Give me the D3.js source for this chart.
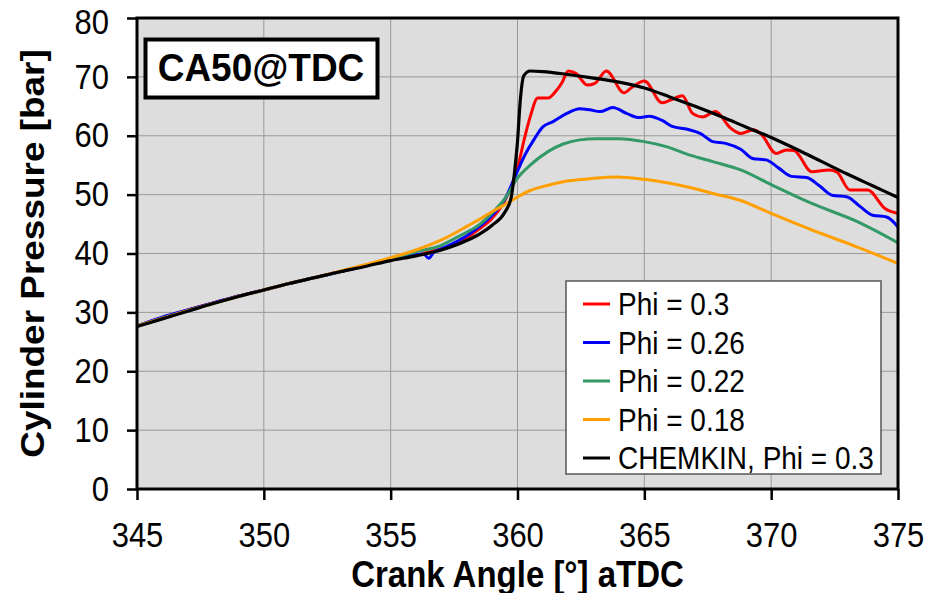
<!DOCTYPE html>
<html>
<head>
<meta charset="utf-8">
<script src="https://cdn.jsdelivr.net/npm/d3@7"></script>
<style>
  body { margin: 0; background: #fff; }
  text { font-family: "Liberation Sans", Arial, sans-serif; }
</style>
</head>
<body>
<div id="chart"></div>
<script>
// crank angle ticks and pressure ticks
const angleTicks = [345, 350, 355, 360, 365, 370, 375];
const pressureTicks = [0, 10, 20, 30, 40, 50, 60, 70, 80];

// [crank angle, pressure]
const phi030 = [[345,27.7],[346,29.1],[347,30.4],[348,31.6],[349,32.8],[350,33.8],[351,34.9],[352,35.9],[353,36.9],[354,37.9],[355,38.9],
  [356,39.7],[357,40.8],[357.5,41.5],[358,42.7],[358.5,44.2],[359,46.0],[359.5,49.0],[360,54.5],[360.3,60.0],[360.5,63.2],[360.8,66.4],
  [361.2,66.4],[361.5,67.5],[361.75,69.0],[362,71.0],[362.3,70.6],[362.75,68.6],[363.05,68.9],[363.5,71.0],[364.2,67.3],[364.5,68.2],
  [365,69.3],[365.7,65.6],[366,66.0],[366.5,66.8],[366.9,63.8],[367.3,63.2],[367.8,64.1],[368.4,61.3],[368.8,60.4],[369.3,61.0],
  [369.6,60.3],[370.2,57.0],[370.6,57.6],[370.9,57.5],[371.6,53.9],[372.3,54.2],[372.6,53.8],[373.1,50.8],[373.8,50.8],[374.5,47.6],[375,46.8]];
const phi026 = [[345,27.7],[346,29.2],[347,30.4],[348,31.6],[349,32.8],[350,33.8],[351,34.9],[352,35.9],[353,36.9],[354,37.9],[355,38.9],
  [356,39.8],[356.3,39.9],[356.5,39.2],[356.7,40.2],[357,40.8],[357.5,41.8],[358,43.0],[358.5,44.6],[359,46.5],[359.5,49.2],[360,54.0],
  [360.3,56.8],[360.6,59.0],[361,61.5],[361.4,62.4],[361.95,63.8],[362.45,64.6],[362.85,64.4],[363.25,64.1],[363.76,64.8],[364.3,63.8],
  [364.75,63.1],[365.2,63.3],[365.7,62.6],[366.1,61.6],[366.7,61.1],[367.2,60.4],[367.7,59.0],[368.2,58.7],[368.8,57.7],[369.3,56.1],
  [369.8,55.9],[370.3,54.5],[370.8,53.1],[371.4,52.9],[371.9,51.5],[372.4,49.9],[373,49.6],[373.5,48.0],[374,46.5],[374.55,46.2],[375,44.5]];
const phi022 = [[345,27.7],[346,29.0],[347,30.3],[348,31.5],[349,32.7],[350,33.8],[351,34.9],[352,35.9],[353,36.9],[354,37.9],[355,39.1],
  [356,40.3],[357,41.4],[357.5,42.5],[358,43.6],[358.5,44.9],[359,46.9],[359.5,49.3],[360,52.8],[360.5,55.0],[361.2,57.3],[361.8,58.6],
  [362.45,59.3],[363.1,59.5],[364,59.5],[365,59.0],[365.9,58.1],[366.8,56.7],[367.7,55.6],[368.8,54.2],[370,51.7],[371.6,48.5],
  [373.4,45.4],[375,41.8]];
const phi018 = [[345,27.7],[346,29.0],[347,30.3],[348,31.5],[349,32.7],[350,33.8],[351,34.9],[352,35.9],[353,37.0],[354,38.1],[355,39.3],
  [356,40.6],[357,42.3],[357.5,43.4],[358,44.6],[358.5,45.8],[359,47.1],[359.5,48.3],[360,49.6],[360.5,50.7],[361.2,51.6],[361.8,52.2],
  [362.85,52.7],[363.9,53.0],[365,52.6],[365.9,52.0],[366.8,51.2],[367.7,50.2],[368.8,49.0],[370,46.8],[371.6,44.0],[373.4,41.1],[375,38.3]];
const chemkin = [[345,27.6],[346,28.9],[347,30.2],[348,31.5],[349,32.7],[350,33.8],[351,34.9],[352,35.9],[353,36.9],[354,37.8],[355,38.8],
  [356,39.6],[357,40.6],[358,42.2],[358.5,43.3],[359,44.8],[359.5,47.0],[359.75,49.5],[359.9,54.5],[360,59.0],[360.1,65.5],[360.25,70.2],
  [360.5,71.0],[361,70.9],[362,70.4],[363,69.8],[364,69.1],[365,68.1],[366,66.6],[367,65.0],[368,63.3],[369,61.5],[370,59.7],[371,57.7],
  [372,55.6],[373,53.5],[374,51.5],[375,49.5]];

const seriesNames = ["Phi = 0.3", "Phi = 0.26", "Phi = 0.22", "Phi = 0.18", "CHEMKIN, Phi = 0.3"];
const seriesData = [phi030, phi026, phi022, phi018, chemkin];
const seriesColors = ["#ff0000", "#0000ff", "#339966", "#ffa000", "#000000"];

const W = 927, H = 593;
const margin = {left: 137, top: 18, right: 29, bottom: 104};
const width = W - margin.left - margin.right;
const height = H - margin.top - margin.bottom;
const stretch = 1.12; // text in the picture is a bit taller than wide

const svg = d3.select("#chart").append("svg")
  .attr("width", W).attr("height", H);

const g = svg.append("g").attr("transform", `translate(${margin.left},${margin.top})`);

const x = d3.scaleLinear().domain([345, 375]).range([0, width]);
const y = d3.scaleLinear().domain([0, 80]).range([height, 0]);

g.append("rect").attr("width", width).attr("height", height).attr("fill", "#dddddd");

// grid
g.selectAll(".hgrid").data(pressureTicks.slice(1, -1)).enter().append("line")
  .attr("x1", 0).attr("x2", width)
  .attr("y1", d => y(d)).attr("y2", d => y(d))
  .attr("stroke", "#9a9a9a").attr("stroke-width", 1);
g.selectAll(".vgrid").data(angleTicks.slice(1, -1)).enter().append("line")
  .attr("x1", d => x(d)).attr("x2", d => x(d))
  .attr("y1", 0).attr("y2", height)
  .attr("stroke", "#9a9a9a").attr("stroke-width", 1);

// curves
const line = d3.line().x(d => x(d[0])).y(d => y(d[1])).curve(d3.curveMonotoneX);
g.selectAll(".curve").data(seriesData).enter().append("path")
  .attr("d", line)
  .attr("fill", "none")
  .attr("stroke", (d, i) => seriesColors[i])
  .attr("stroke-width", (d, i) => i === 4 ? 3.2 : 3)
  .attr("stroke-linejoin", "round");

// frame
g.append("rect").attr("width", width).attr("height", height)
  .attr("fill", "none").attr("stroke", "#000").attr("stroke-width", 3);

// axes
const yAxis = g.append("g")
  .call(d3.axisLeft(y).tickValues(pressureTicks).tickSize(10).tickPadding(18));
const xAxis = g.append("g").attr("transform", `translate(0,${height})`)
  .call(d3.axisBottom(x).tickValues(angleTicks).tickSize(11).tickPadding(19));
[yAxis, xAxis].forEach(a => {
  a.select(".domain").remove();
  a.selectAll(".tick line").attr("stroke", "#000").attr("stroke-width", 2.5);
  a.selectAll(".tick text").attr("font-size", "31px").attr("fill", "#000")
    .attr("font-family", "Liberation Sans, Arial, sans-serif")
    .attr("transform", `scale(1,${stretch})`);
});
// keep the top label inside the picture
yAxis.selectAll(".tick text").filter(d => d === 80).attr("dy", "0.45em");

// axis titles
svg.append("text")
  .attr("transform", `translate(32,${margin.top + height / 2}) rotate(-90) scale(${stretch},1)`)
  .attr("text-anchor", "middle").attr("dominant-baseline", "central")
  .attr("font-size", "33px").attr("font-weight", "bold")
  .text("Cylinder Pressure [bar]");
svg.append("text")
  .attr("transform", `translate(${margin.left + width / 2},587) scale(1,${stretch})`)
  .attr("text-anchor", "middle")
  .attr("font-size", "33px").attr("font-weight", "bold")
  .text("Crank Angle [°] aTDC");

// CA50 label box
svg.append("rect").attr("x", 145.5).attr("y", 39.5).attr("width", 232).attr("height", 58)
  .attr("fill", "#fff").attr("stroke", "#000").attr("stroke-width", 4);
svg.append("text").attr("transform", "translate(261,81) scale(1,1.05)")
  .attr("text-anchor", "middle").attr("font-size", "37px").attr("font-weight", "bold")
  .text("CA50@TDC");

// legend
const legend = svg.append("g").attr("transform", "translate(566,281)");
legend.append("rect").attr("width", 315).attr("height", 193)
  .attr("fill", "#fff").attr("stroke", "#555").attr("stroke-width", 1.5);
const items = legend.selectAll(".item").data(seriesNames).enter().append("g")
  .attr("transform", (d, i) => `translate(0,${23 + i * 38.5})`);
items.append("line").attr("x1", 17).attr("x2", 44)
  .attr("stroke", (d, i) => seriesColors[i]).attr("stroke-width", 3);
items.append("text").attr("x", 52).attr("dominant-baseline", "central")
  .attr("transform", `scale(1,${stretch})`)
  .attr("font-size", "28px").text(d => d);
</script>
</body>
</html>
